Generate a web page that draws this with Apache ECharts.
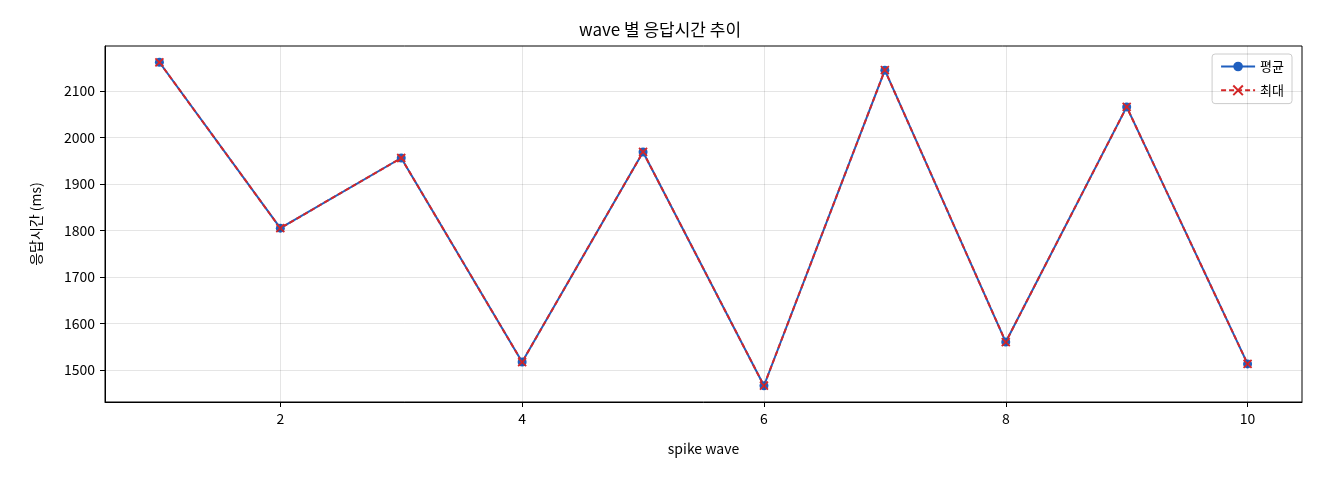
<!DOCTYPE html>
<html><head><meta charset="utf-8">
<script src="https://cdn.jsdelivr.net/npm/echarts@6/dist/echarts.min.js"></script>
<style>html,body{margin:0;padding:0;background:#fff}#c{width:1320px;height:480px}</style>
</head><body><div id="c"></div>
<script>
const waves = [1,2,3,4,5,6,7,8,9,10];
const avgValues = [2162,1805,1956,1517,1969,1466,2145,1560,2066,1513];
const maxValues = [2162,1805,1956,1517,1969,1466,2145,1560,2066,1513];
const xTicks = [2,4,6,8,10];
const yTicks = [1500,1600,1700,1800,1900,2000,2100];
const F = '"Noto Sans CJK KR", "DejaVu Sans", sans-serif';
const xMark = 'path://M0,0L10,10M10,0L0,10';
const chart = echarts.init(document.getElementById('c'));
const grid = {color:'rgba(0,0,0,0.1)', width:1};
chart.setOption({
  animation:false,
  textStyle:{fontFamily:F},
  title:{text:'wave 별 응답시간 추이',left:'center',top:16,textStyle:{fontFamily:F,fontSize:17,fontWeight:'normal',color:'#000'}},
  legend:{right:28,top:54,orient:'vertical',itemGap:10,itemWidth:34,itemHeight:12,
    backgroundColor:'#fff',borderColor:'#ccc',borderWidth:1,borderRadius:3,padding:[6,8],
    textStyle:{fontFamily:F,fontSize:13,color:'#000'},
    data:[{name:'평균'},{name:'최대'}]},
  grid:{left:105,right:18,top:46,bottom:78,show:true,borderColor:'#000',borderWidth:1,backgroundColor:'transparent'},
  xAxis:{type:'value',min:0.55,max:10.45,name:'spike wave',nameLocation:'middle',nameGap:40,
    nameTextStyle:{fontFamily:F,fontSize:14,color:'#000'},
    axisLine:{onZero:false,lineStyle:{color:'#000'}},
    axisTick:{show:true,customValues:xTicks,length:5,lineStyle:{color:'#000'}},
    axisLabel:{customValues:xTicks,fontSize:14,color:'#000',margin:10,formatter:v=>String(v)},
    splitLine:{show:false}},
  yAxis:{type:'value',min:1431,max:2197,name:'응답시간 (ms)',nameLocation:'middle',nameGap:62,
    nameTextStyle:{fontFamily:F,fontSize:14,color:'#000'},
    axisLine:{show:true,lineStyle:{color:'#000'}},
    axisTick:{show:true,customValues:yTicks,length:5,lineStyle:{color:'#000'}},
    axisLabel:{customValues:yTicks,fontSize:14,color:'#000',margin:10,formatter:v=>String(v)},
    splitLine:{show:false}},
  series:[
    {name:'평균',type:'line',data:waves.map((w,i)=>[w,avgValues[i]]),
     symbol:'circle',symbolSize:9,lineStyle:{color:'#1f5fbf',width:2},itemStyle:{color:'#1f5fbf'},
     markLine:{silent:true,symbol:'none',label:{show:false},lineStyle:{...grid,type:'solid'},
       data:[...xTicks.map(v=>({xAxis:v})),...yTicks.map(v=>({yAxis:v}))]}},
    {name:'최대',type:'line',data:waves.map((w,i)=>[w,maxValues[i]]),
     symbol:xMark,symbolSize:8,lineStyle:{color:'#d62728',width:2,type:[5,3]},
     itemStyle:{color:'none',borderColor:'#d62728',borderWidth:1.8}}
  ]
});
</script></body></html>
